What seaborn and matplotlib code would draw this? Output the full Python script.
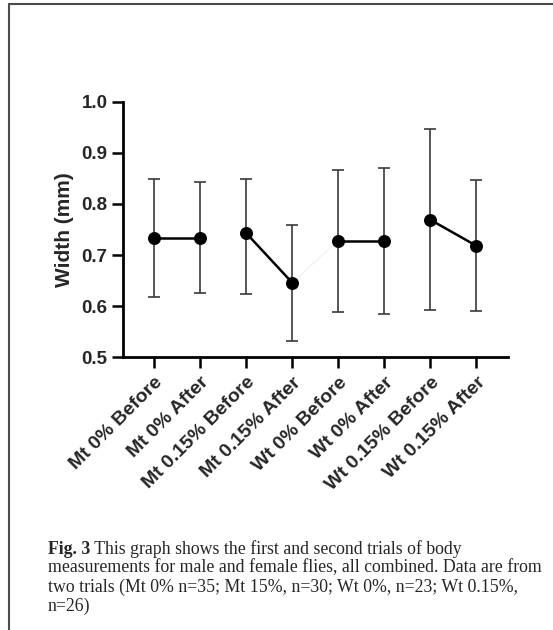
import matplotlib
matplotlib.use('Agg')
import matplotlib.pyplot as plt
from matplotlib.lines import Line2D
import seaborn as sns
import pandas as pd

# Data
labels = ['Mt 0% Before', 'Mt 0% After', 'Mt 0.15% Before', 'Mt 0.15% After',
          'Wt 0% Before', 'Wt 0% After', 'Wt 0.15% Before', 'Wt 0.15% After']
pairs = ['Mt 0%', 'Mt 0%', 'Mt 0.15%', 'Mt 0.15%',
         'Wt 0%', 'Wt 0%', 'Wt 0.15%', 'Wt 0.15%']
means = [0.734, 0.734, 0.743, 0.646, 0.728, 0.728, 0.769, 0.718]
upper = [0.848, 0.843, 0.848, 0.758, 0.867, 0.870, 0.946, 0.846]
lower = [0.618, 0.626, 0.623, 0.532, 0.589, 0.584, 0.593, 0.591]
yticks = [0.5, 0.6, 0.7, 0.8, 0.9, 1.0]

caption_bold = 'Fig. 3'
caption_lines = [
    'This graph shows the first and second trials of body',
    'measurements for male and female flies, all combined. Data are from',
    'two trials (Mt 0% n=35; Mt 15%, n=30; Wt 0%, n=23; Wt 0.15%,',
    'n=26)',
]

df = pd.DataFrame({'label': labels, 'pair': pairs, 'mean': means,
                   'upper': upper, 'lower': lower})
df['pos'] = range(len(df))

sns.set_theme(style='ticks')
plt.rcParams['font.family'] = ['Liberation Sans', 'DejaVu Sans']

fig = plt.figure(figsize=(5.53, 6.30), dpi=100)
ax = fig.add_axes([0.2219, 0.4329, 0.6962, 0.4057])

# error bars
ax.errorbar(df['pos'], df['mean'],
            yerr=[df['mean'] - df['lower'], df['upper'] - df['mean']],
            fmt='none', ecolor='#3a3a3a', elinewidth=1.2, capsize=4,
            capthick=1.2, zorder=1)

# faint stray connector between the two genotypes
ax.plot(df['pos'][3:5], df['mean'][3:5], color='#f2f2f2', lw=1.0, zorder=0)

sns.pointplot(data=df, x='pos', y='mean', hue='pair', native_scale=True,
              palette=['black'] * 4, errorbar=None, markers='o',
              linestyles='-', markersize=8, linewidth=1.8,
              legend=False, ax=ax, zorder=3)

ax.set_xlim(-0.68, 7.68)
ax.set_ylim(0.5, 1.0)
ax.set_yticks(yticks)
ax.set_yticklabels([f'{v:.1f}' for v in yticks])
ax.set_xticks(df['pos'])
ax.set_xticklabels(labels, rotation=45, ha='right', rotation_mode='anchor')
ax.set_xlabel('')
ax.set_ylabel('Width (mm)', fontsize=15, fontweight='bold', labelpad=5)

for lbl in ax.get_yticklabels():
    lbl.set_fontweight('bold')
    lbl.set_fontsize(13.5)
for lbl in ax.get_xticklabels():
    lbl.set_fontweight('bold')
    lbl.set_fontsize(14)
ax.tick_params(axis='both', length=8, width=1.8, color='black')
ax.tick_params(axis='x', pad=4)
ax.tick_params(axis='y', pad=3)

sns.despine(ax=ax)
for s in ['left', 'bottom']:
    ax.spines[s].set_linewidth(2)
    ax.spines[s].set_color('black')

# page frame (left and top edges)
fig.add_artist(Line2D([9 / 553, 9 / 553], [0, 1 - 4 / 630],
                      color='#4d4d4d', lw=1.5))
fig.add_artist(Line2D([9 / 553, 1], [1 - 4 / 630, 1 - 4 / 630],
                      color='#4d4d4d', lw=1.5))

# caption
serif = ['Liberation Serif', 'DejaVu Serif']
cap_size = 12.8
cap_x = 48 / 553
line_y = [549, 568, 587, 606]
t0 = fig.text(cap_x, 1 - line_y[0] / 630, caption_bold, family=serif,
              fontsize=cap_size, fontweight='bold', va='center', ha='left')
ax.annotate(' ' + caption_lines[0], xy=(1, 0.5), xycoords=t0,
            va='center', ha='left', family=serif, fontsize=cap_size,
            annotation_clip=False)
for txt, yy in zip(caption_lines[1:], line_y[1:]):
    fig.text(cap_x, 1 - yy / 630, txt, family=serif, fontsize=cap_size,
             va='center', ha='left')

fig.savefig('out.png', dpi=100, facecolor='white')
